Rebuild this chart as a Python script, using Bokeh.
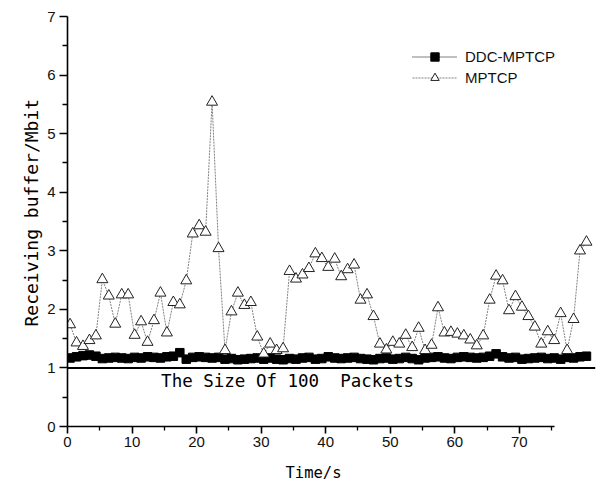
import numpy as np
from bokeh.plotting import figure
from bokeh.models import (Range1d, FixedTicker, Span, Label, Legend, LegendItem,
                          ColumnDataSource, Title)
from bokeh.embed import file_html
from bokeh.resources import INLINE

# ---- data ----
mptcp = [1.74, 1.43, 1.37, 1.47, 1.55, 2.51, 2.23, 1.75, 2.25, 2.25,
         1.56, 1.79, 1.44, 1.81, 2.28, 1.60, 2.12, 2.08, 2.49, 3.29,
         3.43, 3.32, 5.54, 3.04, 1.30, 1.96, 2.28, 2.07, 2.12, 1.53,
         1.24, 1.41, 1.30, 1.33, 2.65, 2.52, 2.59, 2.70, 2.95, 2.87,
         2.72, 2.86, 2.56, 2.68, 2.76, 2.16, 2.25, 1.88, 1.41, 1.31,
         1.44, 1.41, 1.56, 1.35, 1.68, 1.30, 1.39, 2.03, 1.60, 1.61,
         1.58, 1.55, 1.48, 1.38, 1.55, 2.16, 2.57, 2.49, 1.98, 2.22,
         2.04, 1.88, 1.70, 1.41, 1.62, 1.47, 1.93, 1.30, 1.83, 3.00,
         3.15]
ddc = [1.17, 1.19, 1.21, 1.22, 1.20, 1.16, 1.17, 1.18, 1.17, 1.16,
       1.18, 1.17, 1.19, 1.18, 1.17, 1.19, 1.20, 1.26, 1.15, 1.18,
       1.19, 1.18, 1.17, 1.18, 1.15, 1.16, 1.14, 1.15, 1.16, 1.17,
       1.15, 1.17, 1.15, 1.14, 1.16, 1.15, 1.17, 1.18, 1.15, 1.16,
       1.19, 1.17, 1.16, 1.17, 1.18, 1.16, 1.15, 1.14, 1.16, 1.17,
       1.15, 1.16, 1.18, 1.16, 1.14, 1.17, 1.18, 1.19, 1.17, 1.16,
       1.18, 1.19, 1.18, 1.17, 1.18, 1.20, 1.24, 1.19, 1.17, 1.18,
       1.15, 1.16, 1.17, 1.18, 1.16, 1.17, 1.15, 1.18, 1.17, 1.19,
       1.20]
time_s = [i + 0.4 for i in range(len(mptcp))]

x_ticks = [0, 10, 20, 30, 40, 50, 60, 70]
x_minor = [5, 15, 25, 35, 45, 55, 65, 75]
y_ticks = [0, 1, 2, 3, 4, 5, 6, 7]
y_minor = [0.5, 1.5, 2.5, 3.5, 4.5, 5.5, 6.5]
buffer_level = 1.0
note_text = "The Size Of 100\u00a0\u00a0Packets"
x_title = "Time/s"
y_title = "Receiving buffer/Mbit"

src = ColumnDataSource(dict(t=time_s, mptcp=mptcp, ddc=ddc))

p = figure(width=598, height=486, output_backend="svg", toolbar_location=None,
           x_range=Range1d(0, 81.8), y_range=Range1d(0, 7),
           min_border_left=67, min_border_right=3, min_border_top=16,
           min_border_bottom=60)
p.title.visible = False
p.outline_line_color = None
p.grid.visible = False
p.background_fill_color = "white"

for ax in (p.xaxis[0], p.yaxis[0]):
    ax.axis_line_width = 1.6
    ax.axis_line_color = "black"
    ax.major_tick_line_width = 1.6
    ax.minor_tick_line_width = 1.3
    ax.major_tick_in = 0
    ax.minor_tick_in = 0
    ax.major_label_text_font = "Liberation Sans"
    ax.major_label_text_font_size = "15px"
    ax.major_label_text_color = "#111111"

p.xaxis.ticker = FixedTicker(ticks=x_ticks, minor_ticks=x_minor)
p.yaxis.ticker = FixedTicker(ticks=y_ticks, minor_ticks=y_minor)
p.xaxis.bounds = (0, 75.5)
p.yaxis.bounds = (0, 7)
p.xaxis.major_tick_out = 7
p.xaxis.minor_tick_out = 4
p.yaxis.major_tick_out = 8
p.yaxis.minor_tick_out = 5
p.xaxis.major_label_standoff = 3
p.yaxis.major_label_standoff = 4

p.add_layout(Span(location=buffer_level, dimension="width", line_color="black",
                  line_width=2))

l1 = p.line("t", "ddc", source=src, line_color="black", line_width=1,
            line_dash="1 1")
s1 = p.scatter("t", "ddc", source=src, marker="square", size=8.5,
               fill_color="black", line_color="black")
l2 = p.line("t", "mptcp", source=src, line_color="#808080", line_width=1,
            line_dash="2 1")
s2 = p.scatter("t", "mptcp", source=src, marker="triangle", size=11,
               fill_color="white", line_color="#222222", line_width=1)

legend = Legend(items=[LegendItem(label="DDC-MPTCP", renderers=[l1, s1]),
                       LegendItem(label="MPTCP", renderers=[l2, s2])],
                location=(345, 338), glyph_width=45, glyph_height=21,
                label_height=21, spacing=0, padding=0, margin=0,
                label_standoff=8, border_line_color=None,
                background_fill_alpha=0, label_text_font="Liberation Sans",
                label_text_font_size="15px", label_text_color="#111111")
p.add_layout(legend)

p.add_layout(Label(x=14.5, y=0.77, text=note_text, text_baseline="middle",
                   text_align="left", text_font="DejaVu Sans Mono",
                   text_font_size="17.5px", text_color="black"))

# small spacer between the tick labels and the x title
p.add_layout(Title(text=" ", standoff=0, text_font_size="4px"), "below")
p.add_layout(Title(text=x_title, align="left", offset=218, standoff=10,
                   text_font="DejaVu Sans Mono", text_font_size="15.5px",
                   text_font_style="normal", text_color="black"), "below")
p.add_layout(Title(text=y_title, align="left", offset=100, standoff=5,
                   text_font="DejaVu Sans Mono", text_font_size="18px",
                   text_font_style="normal", text_color="black"), "left")

open("out.html", "w").write(file_html(p, INLINE))
